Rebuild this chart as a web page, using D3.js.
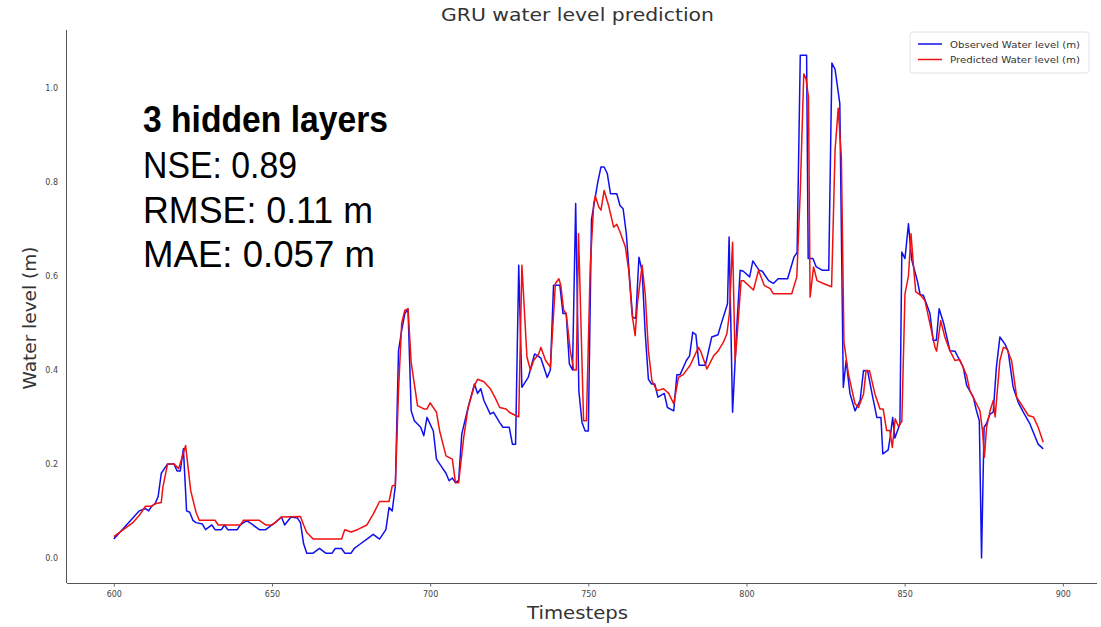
<!DOCTYPE html>
<html>
<head>
<meta charset="utf-8">
<script src="https://cdn.jsdelivr.net/npm/d3@7"></script>
<style>
  body { margin: 0; background: #fff; }
  svg text { font-family: "DejaVu Sans", sans-serif; }
  .tick text { fill: #444; font-size: 8px; }
  .tick line { stroke: #666; }
  .domain { stroke: #555; }
  .note { font-family: "Liberation Sans", sans-serif; fill: #000; font-size: 37px; }
</style>
</head>
<body>
<svg id="chart" width="1101" height="627"></svg>
<script>
// observed water level, [timestep, metres]
const observed = [
  [600,0.04],[602,0.055],[604,0.07],[606,0.085],[608,0.10],[610,0.105],[611,0.10],[612,0.11],[613,0.115],[614,0.13],
  [615,0.18],[616,0.19],[617,0.20],[619,0.20],[620,0.185],[621,0.185],[622,0.232],[623,0.10],[624,0.097],[625,0.08],
  [626,0.075],[628,0.072],[629,0.06],[631,0.07],[632,0.06],[634,0.06],[635,0.07],[636,0.06],[639,0.06],[640,0.07],
  [642,0.079],[644,0.07],[646,0.06],[648,0.06],[650,0.07],[651,0.075],[653,0.087],[654,0.07],[656,0.087],[658,0.085],
  [659,0.075],[660,0.03],[661,0.01],[663,0.01],[665,0.02],[667,0.01],[669,0.01],[670,0.02],[672,0.02],[673,0.01],
  [675,0.01],[676,0.02],[678,0.03],[680,0.04],[682,0.05],[684,0.04],[686,0.06],[687,0.107],[688,0.10],[689,0.153],
  [690,0.441],[691,0.484],[692,0.52],[693,0.53],[694,0.313],[695,0.292],[697,0.278],[698,0.26],[699,0.299],[701,0.27],
  [702,0.21],[704,0.19],[705,0.18],[706,0.164],[707,0.17],[708,0.16],[709,0.165],[710,0.264],[712,0.32],[714,0.37],
  [715,0.35],[716,0.36],[717,0.335],[719,0.306],[720,0.31],[722,0.288],[723,0.278],[725,0.278],[726,0.242],[727,0.242],
  [728,0.623],[729,0.363],[731,0.384],[733,0.434],[734,0.43],[735,0.425],[737,0.384],[738,0.40],[739,0.58],[741,0.58],
  [742,0.52],[743,0.52],[744,0.413],[745,0.40],[746,0.754],[747,0.356],[748,0.288],[749,0.27],[750,0.27],[751,0.72],
  [752,0.76],[753,0.80],[754,0.832],[755,0.832],[756,0.818],[757,0.775],[759,0.775],[760,0.75],[761,0.743],[762,0.69],
  [763,0.60],[764,0.512],[765,0.51],[766,0.64],[767,0.61],[768,0.477],[769,0.38],[770,0.37],[771,0.37],[772,0.342],
  [774,0.35],[775,0.32],[777,0.313],[778,0.39],[779,0.39],[781,0.42],[782,0.43],[783,0.48],[784,0.475],[785,0.41],
  [787,0.41],[789,0.47],[791,0.475],[792,0.498],[794,0.541],[794.5,0.683],[795.6,0.31],[797,0.50],[798,0.612],[799,0.61],
  [801,0.598],[802,0.632],[804,0.612],[805,0.61],[807,0.59],[808.5,0.584],[810,0.594],[813,0.594],[815,0.64],[816,0.65],
  [817,1.07],[819,1.07],[819.5,0.637],[821,0.637],[822,0.62],[824,0.612],[826,0.612],[827,1.053],[828,1.04],[829.5,0.967],
  [830.6,0.363],[831.5,0.42],[832.7,0.35],[834.3,0.313],[835.9,0.335],[837,0.399],[838.3,0.398],[839.6,0.352],[841.2,0.299],[842.5,0.299],
  [843.1,0.221],[844.8,0.23],[845.5,0.26],[846.2,0.299],[846.9,0.255],[848.5,0.285],[849.1,0.651],[850.1,0.637],[851.2,0.711],[852.2,0.635],
  [854,0.59],[854.9,0.56],[855.9,0.559],[858,0.52],[859,0.463],[860,0.463],[860.9,0.53],[862.3,0.50],[864.3,0.441],[865.9,0.44],
  [866.9,0.427],[868.5,0.406],[869.6,0.367],[871.7,0.342],[872.7,0.313],[873.6,0.292],[874.3,0.0],[875.1,0.278],[875.8,0.285],[877,0.306],
  [878,0.31],[879,0.406],[880.1,0.47],[881.7,0.455],[882.7,0.44],[884.3,0.363],[885.9,0.331],[887.5,0.31],[889.6,0.285],[892.2,0.242],
  [893.8,0.232]
];

// GRU predicted water level
const predicted = [
  [600,0.045],[603,0.06],[606,0.075],[608,0.09],[610,0.11],[612,0.11],[613,0.115],[615,0.118],[615.5,0.15],[617,0.20],
  [619,0.20],[620.5,0.19],[622.7,0.239],[624.3,0.143],[626,0.097],[627,0.08],[632,0.08],[633,0.07],[640,0.07],[641,0.08],
  [646,0.08],[648,0.07],[650,0.07],[651,0.075],[653,0.087],[659,0.088],[660,0.07],[661,0.054],[663,0.04],[672,0.04],
  [673,0.06],[675,0.055],[677,0.06],[680,0.07],[682,0.093],[684,0.12],[687,0.12],[688,0.153],[689,0.155],[690,0.356],
  [691,0.50],[692,0.527],[693,0.53],[694,0.416],[696,0.324],[698,0.317],[699,0.317],[700,0.33],[702,0.31],[703,0.27],
  [705,0.217],[707,0.21],[708,0.16],[709,0.16],[710.6,0.256],[712,0.32],[714,0.367],[715,0.38],[717,0.375],[719,0.36],
  [720.6,0.34],[722,0.32],[724,0.317],[725,0.31],[727,0.303],[728,0.30],[729,0.623],[730.6,0.427],[731.7,0.40],[732.7,0.42],
  [734.3,0.434],[735,0.448],[736.5,0.42],[738,0.406],[739.6,0.584],[740.7,0.594],[741.3,0.58],[742.2,0.527],[743,0.52],[744.3,0.441],
  [745.4,0.40],[746.2,0.40],[746.9,0.69],[748.5,0.292],[749.4,0.292],[750.6,0.619],[751.7,0.754],[752.2,0.77],[753.3,0.747],[754,0.74],
  [755,0.782],[756.4,0.75],[758,0.704],[759,0.71],[760,0.694],[761.7,0.662],[762.8,0.61],[763.8,0.52],[764.8,0.473],[765.5,0.54],
  [767,0.623],[768,0.56],[769,0.441],[770.1,0.377],[771.7,0.356],[773.8,0.36],[775.4,0.35],[777,0.328],[778.5,0.384],[780,0.39],
  [782.2,0.41],[784.8,0.448],[785.5,0.44],[787.5,0.402],[789.6,0.43],[791,0.44],[792.7,0.459],[793.8,0.477],[794.6,0.52],[795.6,0.672],
  [796.4,0.42],[796.9,0.46],[798.3,0.59],[799,0.59],[802.2,0.57],[803.8,0.612],[805.6,0.58],[807.5,0.573],[808.5,0.562],[814.3,0.562],
  [815.9,0.598],[817,0.78],[818.1,1.03],[818.8,1.02],[819.6,0.98],[820.1,0.555],[821.2,0.619],[822.3,0.59],[824.3,0.584],[826.9,0.577],
  [828,0.868],[829,0.957],[830,0.85],[830.8,0.46],[832.2,0.392],[834.3,0.328],[835.4,0.32],[837,0.349],[837.8,0.399],[838.9,0.398],
  [840.6,0.349],[842.2,0.317],[843.2,0.317],[844.3,0.271],[845.3,0.271],[846.1,0.235],[847,0.296],[848,0.28],[849.1,0.29],[850.1,0.562],
  [851.2,0.6],[852,0.69],[852.8,0.62],[853.5,0.566],[854.9,0.56],[856.4,0.548],[858,0.498],[859.6,0.448],[860.1,0.44],[861.4,0.505],
  [862.7,0.47],[864.3,0.441],[865.9,0.42],[867.4,0.422],[869.6,0.388],[870.6,0.356],[872.7,0.328],[873.8,0.313],[874.6,0.271],[875.2,0.214],
  [875.9,0.278],[877,0.313],[878,0.335],[878.6,0.30],[880.1,0.42],[881.2,0.448],[882.3,0.445],[883.8,0.42],[885.4,0.342],[887.5,0.32],
  [889.1,0.303],[890.7,0.30],[892.2,0.278],[893.8,0.246]
];

const xTicks = [600, 650, 700, 750, 800, 850, 900];
const yTicks = [0.0, 0.2, 0.4, 0.6, 0.8, 1.0];
const seriesNames = ["Observed Water level (m)", "Predicted Water level (m)"];
const seriesColors = ["#1010ee", "#f01010"];
const noteLines = ["3 hidden layers", "NSE: 0.89", "RMSE: 0.11 m", "MAE: 0.057 m"];

var svg = d3.select("svg#chart"),
    margin = {top: 30, right: 4, bottom: 44, left: 67},
    width = +svg.attr("width") - margin.left - margin.right,
    height = +svg.attr("height") - margin.top - margin.bottom;

// matplotlib style 5% padding round the data
var x = d3.scaleLinear().domain([585.2, 910.8]).range([0, width]);
var y = d3.scaleLinear().domain([-0.0535, 1.1235]).range([height, 0]);

var g = svg.append("g").attr("transform", `translate(${margin.left},${margin.top})`);

g.append("g")
  .attr("transform", `translate(0,${height})`)
  .call(d3.axisBottom(x).tickValues(xTicks).tickSize(3.5).tickPadding(5).tickFormat(d3.format("d")))
  .call(a => a.select(".domain").attr("d", `M0,0.5H${width}`));

g.append("g")
  .call(d3.axisLeft(y).tickValues(yTicks).tickSize(0).tickPadding(9).tickFormat(d3.format(".1f")))
  .call(a => a.select(".domain").attr("d", `M-0.5,0V${height}`));

var line = d3.line().x(d => x(d[0])).y(d => y(d[1]));

[observed, predicted].forEach((s, i) => {
  g.append("path")
    .datum(s)
    .attr("fill", "none")
    .attr("stroke", seriesColors[i])
    .attr("stroke-width", 1.5)
    .attr("stroke-linejoin", "round")
    .attr("d", line);
});

// title and axis labels
svg.append("text").attr("x", 441).attr("y", 21)
  .attr("textLength", 273).attr("lengthAdjust", "spacingAndGlyphs")
  .style("font-size", "17px").style("fill", "#333").text("GRU water level prediction");
svg.append("text").attr("x", 527).attr("y", 619)
  .attr("textLength", 101).attr("lengthAdjust", "spacingAndGlyphs")
  .style("font-size", "18.5px").style("fill", "#333").text("Timesteps");
svg.append("text").attr("transform", "translate(36,318) rotate(-90)").attr("text-anchor", "middle")
  .style("font-size", "18.5px").style("fill", "#333").text("Water level (m)");

// legend
var legend = svg.append("g").attr("transform", "translate(910,32)");
legend.append("rect").attr("width", 179).attr("height", 41).attr("rx", 3)
  .attr("fill", "#fff").attr("stroke", "#e2e2e2");
seriesNames.forEach((name, i) => {
  legend.append("line").attr("x1", 8).attr("x2", 32).attr("y1", 12 + i * 15.5).attr("y2", 12 + i * 15.5)
    .attr("stroke", seriesColors[i]).attr("stroke-width", 1.5);
  legend.append("text").attr("x", 40).attr("y", 15.5 + i * 15.5)
    .attr("textLength", 130).attr("lengthAdjust", "spacingAndGlyphs")
    .style("font-size", "9.5px").style("fill", "#333").text(name);
});

// scores annotation
var noteWidths = [245, 154, 230, 232];
noteLines.forEach((t, i) => {
  svg.append("text").attr("class", "note")
    .attr("x", 143).attr("y", i === 0 ? 132 : 178 + (i - 1) * 44.5)
    .attr("textLength", noteWidths[i]).attr("lengthAdjust", "spacingAndGlyphs")
    .style("font-weight", i === 0 ? "bold" : "normal")
    .text(t);
});
</script>
</body>
</html>
